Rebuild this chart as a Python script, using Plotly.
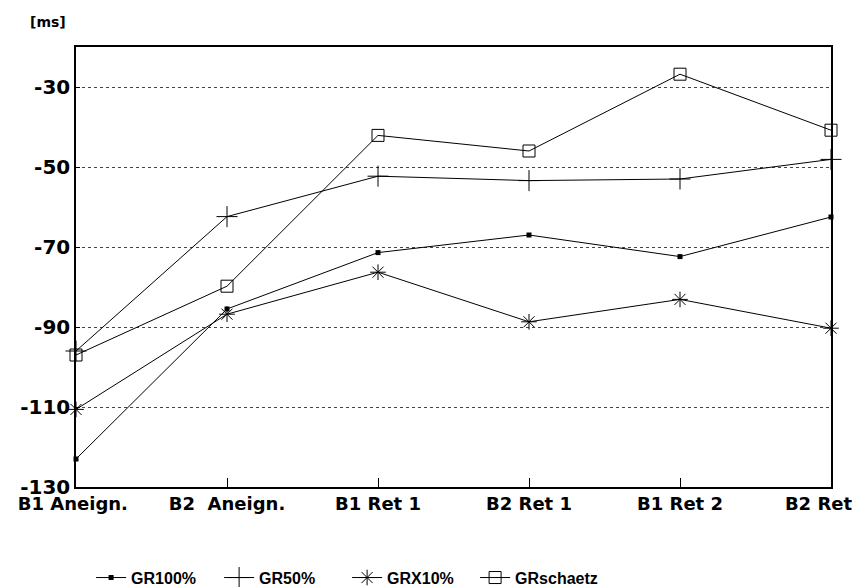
import plotly.graph_objects as go

categories = ["B1 Aneign.", "B2 Aneign.", "B1 Ret 1", "B2 Ret 1", "B1 Ret 2", "B2 Ret"]
tick_labels = ["B1 Aneign.\u00a0", "B2\u00a0\u00a0Aneign.", "B1 Ret 1", "B2 Ret 1", "B1 Ret 2",
               "B2 Ret\u00a0\u00a0\u00a0\u00a0"]

gr100 = [-123.0, -85.5, -71.4, -67.0, -72.4, -62.5]
gr50 = [-96.0, -62.4, -52.3, -53.4, -53.0, -48.1]
grx10 = [-110.6, -86.8, -76.3, -88.7, -83.1, -90.3]
grschaetz = [-97.0, -79.8, -42.1, -46.0, -26.8, -40.8]

y_ticks = [-130, -110, -90, -70, -50, -30]
y_tick_text = ["-130", "-110", "-90", "-70", "-50", "-30"]

WIDE = "DejaVu Sans, Verdana, sans-serif"
NARROW = "Liberation Sans, Arial, sans-serif"

series = [
    ("GR100%", gr100, dict(symbol="square", size=5, color="black")),
    ("GR50%", gr50, dict(symbol="cross-thin", size=15, color="black",
                         line=dict(width=1, color="black"))),
    ("GRX10%", grx10, dict(symbol="asterisk", size=13, color="black",
                           line=dict(width=1, color="black"))),
    ("GRschaetz", grschaetz, dict(symbol="square-open", size=12, color="black",
                                  line=dict(width=1, color="black"))),
]

fig = go.Figure()
for name, vals, marker in series:
    fig.add_trace(go.Scatter(
        x=categories, y=vals, name=name, mode="lines+markers",
        line=dict(color="black", width=1), marker=marker, cliponaxis=False,
    ))

fig.update_layout(
    width=852, height=579,
    margin=dict(l=68, r=29, t=39, b=100, autoexpand=False),
    paper_bgcolor="white", plot_bgcolor="white",
    font=dict(family=WIDE, color="black", size=18, weight="bold"),
    legend=dict(orientation="h", x=0.02, xanchor="left", y=-0.206, yanchor="middle",
                entrywidth=83, entrywidthmode="pixels",
                font=dict(size=16, family=NARROW, weight="bold")),
    annotations=[dict(text="[ms]", xref="paper", yref="paper", x=-0.0371, y=1.0568,
                      xanchor="center", yanchor="middle", showarrow=False,
                      font=dict(size=14, family=WIDE, weight="bold"))],
)

fig.update_xaxes(
    type="category", range=[0, 5], tickvals=categories, ticktext=tick_labels,
    showline=True, mirror=True, linecolor="black", linewidth=1.5,
    ticks="inside", ticklen=9, tickcolor="black", showgrid=False, automargin=False,
    tickfont=dict(size=18, family=WIDE, weight="bold"),
)
fig.update_yaxes(
    range=[-130, -20], tickvals=y_ticks, ticktext=y_tick_text,
    showline=True, mirror=True, linecolor="black", linewidth=1.5,
    ticks="inside", ticklen=4, tickcolor="black", automargin=False,
    showgrid=True, gridcolor="#444", griddash="dot", gridwidth=1,
    zeroline=False,
    tickfont=dict(size=20, family=WIDE, weight="bold"),
)

fig.write_html("out.html")
